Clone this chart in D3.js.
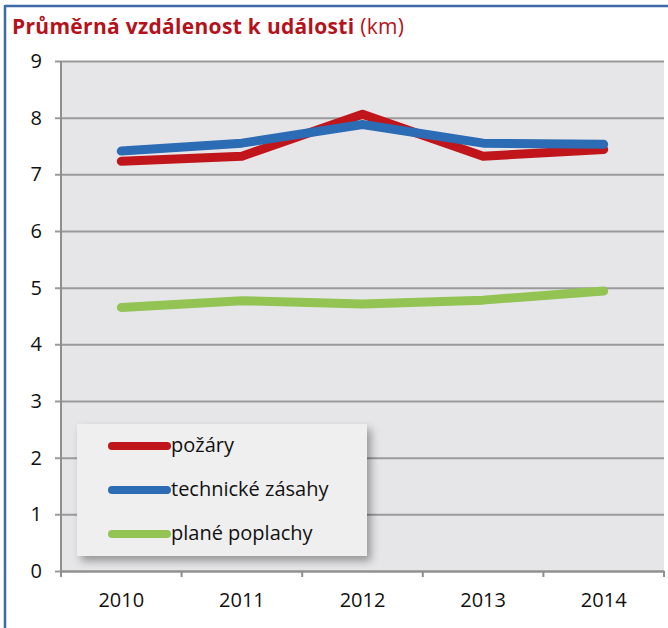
<!DOCTYPE html>
<html><head><meta charset="utf-8">
<script src="https://cdn.jsdelivr.net/npm/d3@7"></script>
<style>
html,body{margin:0;padding:0;background:#fff;}
svg{display:block;}
</style></head>
<body>
<svg id="chart" width="668" height="628"></svg>
<script>
const years = ["2010","2011","2012","2013","2014"];
const seriesNames = ["požáry","technické zásahy","plané poplachy"];
const pozary = [7.23, 7.32, 8.06, 7.32, 7.44];
const technicke = [7.41, 7.55, 7.88, 7.55, 7.53];
const plane = [4.65, 4.77, 4.71, 4.78, 4.94];
const yTicks = [0,1,2,3,4,5,6,7,8,9];
const colors = ["#c0161b","#2b6cb5","#92c353"];
const titleBold = "Průměrná vzdálenost k události";
const titleUnit = "(km)";

const series = [pozary, technicke, plane].map((v,i)=>({name:seriesNames[i], values:v, color:colors[i]}));

const svg = d3.select("#chart");
const font = "'Open Sans', Lato, sans-serif";
const pL = 61, pR = 664, pT = 61, pB = 571;

// frame
svg.append("line").attr("x1",5).attr("x2",668).attr("y1",6).attr("y2",6).attr("stroke","#3d6aa6").attr("stroke-width",2.5);
svg.append("line").attr("x1",5).attr("x2",5).attr("y1",5).attr("y2",628).attr("stroke","#3d6aa6").attr("stroke-width",2.5);

// title
const t = svg.append("text").attr("x",12).attr("y",34).attr("font-family",font).attr("font-size",21).attr("letter-spacing",0.3).attr("fill","#b5121b");
t.append("tspan").attr("font-weight","bold").text(titleBold);
t.append("tspan").attr("font-weight","normal").text(" " + titleUnit);

const x = d3.scaleBand().domain(years).range([pL,pR]);
const y = d3.scaleLinear().domain([0,9]).range([pB,pT]);

svg.append("rect").attr("x",pL).attr("y",pT).attr("width",pR-pL).attr("height",pB-pT).attr("fill","#e6e6e8");

// y axis with gridlines
const yAxis = svg.append("g").attr("transform",`translate(${pL},0)`)
  .call(d3.axisLeft(y).tickValues(yTicks).tickSize(-(pR-pL)).tickSizeOuter(0).tickPadding(19));
yAxis.select(".domain").remove();
yAxis.selectAll(".tick line").attr("stroke","#9a9a9a").attr("stroke-width",2).attr("x1",-6);
yAxis.selectAll(".tick text").attr("font-family",font).attr("font-size",20).attr("fill","#111");

svg.append("line").attr("x1",pL).attr("x2",pL).attr("y1",pT).attr("y2",pB).attr("stroke","#8f8f8f").attr("stroke-width",2);

// x axis
const xAxis = svg.append("g").attr("transform",`translate(0,${pB})`)
  .call(d3.axisBottom(x).tickSize(0).tickPadding(22));
xAxis.select(".domain").attr("stroke","#8f8f8f").attr("stroke-width",2);
xAxis.selectAll(".tick text").attr("font-family",font).attr("font-size",20).attr("fill","#111");
const bounds = years.map(d=>x(d)).concat([x(years[years.length-1])+x.bandwidth()]);
svg.append("g").selectAll("line").data(bounds).join("line")
  .attr("x1",d=>d).attr("x2",d=>d).attr("y1",pB).attr("y2",pB+6)
  .attr("stroke","#8f8f8f").attr("stroke-width",2);

// lines
const line = d3.line().x((d,i)=>x(years[i])+x.bandwidth()/2).y(d=>y(d));
svg.append("g").selectAll("path").data(series).join("path")
  .attr("d",d=>line(d.values)).attr("fill","none").attr("stroke",d=>d.color)
  .attr("stroke-width",9).attr("stroke-linecap","round").attr("stroke-linejoin","round");

// legend
const defs = svg.append("defs");
const f = defs.append("filter").attr("id","sh").attr("x","-10%").attr("y","-10%").attr("width","130%").attr("height","140%");
f.append("feDropShadow").attr("dx",4).attr("dy",5).attr("stdDeviation",4).attr("flood-color","#000").attr("flood-opacity",0.35);
const lg = svg.append("g");
lg.append("rect").attr("x",77).attr("y",424).attr("width",290).attr("height",132).attr("fill","#efeff0").attr("filter","url(#sh)");
const items = lg.selectAll("g.item").data(series).join("g").attr("class","item")
  .attr("transform",(d,i)=>`translate(0,${446 + i*44})`);
items.append("line").attr("x1",112).attr("x2",167).attr("y1",0).attr("y2",0)
  .attr("stroke",d=>d.color).attr("stroke-width",8).attr("stroke-linecap","round");
items.append("text").attr("x",171).attr("y",0).attr("dy","0.3em").attr("font-family",font).attr("font-size",20).attr("fill","#111").text(d=>d.name);
</script>
</body></html>
